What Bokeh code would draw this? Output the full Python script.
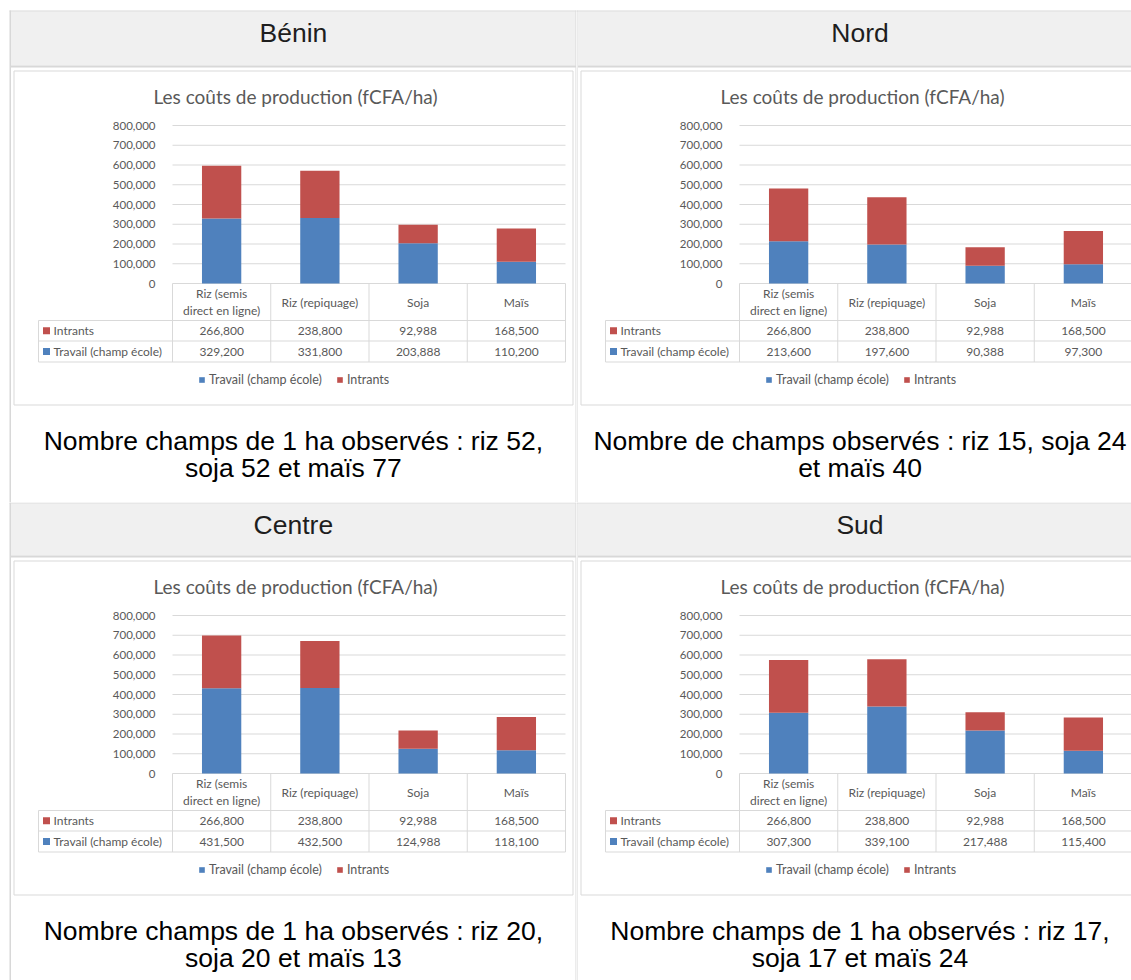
from bokeh.plotting import figure
from bokeh.models import (Range1d, LinearAxis, FixedTicker, NumeralTickFormatter,
                          ColumnDataSource, Legend, LegendItem)
from bokeh.layouts import row, column
from bokeh.core.properties import value
from bokeh.embed import file_html
from bokeh.resources import INLINE

# ---------------- data ----------------
regions = ["Bénin", "Nord", "Centre", "Sud"]
categories = ["Riz (semis direct en ligne)", "Riz (repiquage)", "Soja", "Maïs"]
category_labels = [["Riz (semis", "direct en ligne)"], ["Riz (repiquage)"], ["Soja"], ["Maïs"]]
series_names = ["Travail (champ école)", "Intrants"]
chart_title = "Les coûts de production (fCFA/ha)"
y_ticks = [0, 100000, 200000, 300000, 400000, 500000, 600000, 700000, 800000]

intrants_benin = [266800, 238800, 92988, 168500]
travail_benin = [329200, 331800, 203888, 110200]
intrants_nord = [266800, 238800, 92988, 168500]
travail_nord = [213600, 197600, 90388, 97300]
intrants_centre = [266800, 238800, 92988, 168500]
travail_centre = [431500, 432500, 124988, 118100]
intrants_sud = [266800, 238800, 92988, 168500]
travail_sud = [307300, 339100, 217488, 115400]

caption_benin = ["Nombre champs de 1 ha observés : riz 52,", "soja 52 et maïs 77"]
caption_nord = ["Nombre de champs observés : riz 15, soja 24", "et maïs 40"]
caption_centre = ["Nombre champs de 1 ha observés : riz 20,", "soja 20 et maïs 13"]
caption_sud = ["Nombre champs de 1 ha observés : riz 17,", "soja 17 et maïs 24"]

# ---------------- styles ----------------
BLUE = "#4F81BD"
RED = "#C0504D"
GRID = "#d9d9d9"
CELL_LINE = "#d8d8d8"
HDR_FILL = "#f0f0f0"
TXT = "#595959"
CHART_FONT = "Lato"
DOC_FONT = "Liberation Sans"
TABLE_FS = "12px"


def quadrant(region, travail, intrants, caption, left_col, top_row):
    x0, W = (0, 576) if left_col else (576, 555)
    y0, H = (0, 502) if top_row else (502, 478)
    p = figure(width=W, height=H, x_range=Range1d(x0, x0 + W), y_range=Range1d(y0 + H, y0),
               min_border=0, toolbar_location=None, output_backend="svg",
               x_axis_location=None, y_axis_location=None, outline_line_color=None,
               background_fill_color="white", border_fill_color="white")
    p.xgrid.visible = False
    p.ygrid.visible = False

    # ----- table cell structure -----
    hdr_top, hdr_bot, fr_top = (11, 65, 70) if top_row else (503, 555, 560)
    cl = 10.5 if left_col else x0 + 1.5
    cr = x0 + W - 0.5 if left_col else x0 + W
    p.quad(left=cl, right=cr, top=hdr_top, bottom=hdr_bot, fill_color=HDR_FILL, line_color=None)
    p.segment(x0=cl, x1=cr, y0=hdr_bot + 1, y1=hdr_bot + 1, line_color=CELL_LINE, line_width=2)
    if top_row:
        p.segment(x0=9, x1=cr, y0=10.5, y1=10.5, line_color=CELL_LINE, line_width=1)
    else:
        p.segment(x0=max(x0, 9), x1=cr, y0=502.5, y1=502.5, line_color=CELL_LINE, line_width=1)
    vy0 = 10 if top_row else y0
    if left_col:
        p.segment(x0=9.75, x1=9.75, y0=vy0, y1=y0 + H, line_color=CELL_LINE, line_width=1.5)
        p.segment(x0=x0 + W - 0.5, x1=x0 + W - 0.5, y0=vy0, y1=y0 + H, line_color=CELL_LINE, line_width=1)
    else:
        p.segment(x0=x0 + 0.5, x1=x0 + 0.5, y0=vy0, y1=y0 + H, line_color=CELL_LINE, line_width=1)

    # ----- chart frame -----
    fx, fr = (13.5, 572.5) if left_col else (580.5, 1139.5)
    fb = fr_top + 334
    cell_cx = (9.75 + 576) / 2 if left_col else (576 + 1143) / 2

    # header text
    p.text(x=[cell_cx], y=[hdr_top + 21], text=[region], text_font=value(DOC_FONT),
           text_font_size="26.5px", text_color="#1e1e1e", text_align="center", text_baseline="middle")

    p.quad(left=fx, right=fr, top=fr_top + 0.5, bottom=fb + 0.5, fill_color="white",
           line_color=GRID, line_width=1)
    p.text(x=[(fx + fr) / 2 + 2], y=[fr_top + 26], text=[chart_title], text_font=value(CHART_FONT),
           text_font_size="19px", text_color=TXT, text_align="center", text_baseline="middle")

    pl, pr = fx + 158.5, fr - 7.5
    zero_y, top_y = fr_top + 213, fr_top + 55
    n = len(categories)
    band = (pr - pl) / n
    p.extra_x_ranges = {"cat": Range1d(-0.5 + (x0 - pl) / band, -0.5 + (x0 + W - pl) / band)}
    scale = max(y_ticks) / (zero_y - top_y)
    p.extra_y_ranges = {"val": Range1d((zero_y - (y0 + H)) * scale, (zero_y - y0) * scale)}

    # gridlines
    p.segment(x0=pl, x1=pr, y0=y_ticks, y1=y_ticks, y_range_name="val", line_color=GRID, line_width=1)

    # bars
    src = ColumnDataSource(dict(idx=list(range(n)), travail=travail, intrants=intrants))
    rs = p.vbar_stack(["travail", "intrants"], x="idx", width=0.4, fill_color=[BLUE, RED],
                      line_color=None, source=src, x_range_name="cat", y_range_name="val")

    # y axis inside the frame
    ax = LinearAxis(y_range_name="val", fixed_location=pl, ticker=FixedTicker(ticks=y_ticks),
                    formatter=NumeralTickFormatter(format="0,0"), axis_line_color=None,
                    major_tick_line_color=None, minor_tick_line_color=None,
                    major_tick_in=0, major_tick_out=0, major_label_standoff=17,
                    major_label_text_font=CHART_FONT, major_label_text_font_size="11.5px",
                    major_label_text_color=TXT)
    p.add_layout(ax, "left")

    # data table
    tl = fx + 24.5
    r1 = zero_y + 37
    r2 = r1 + 20.5
    r3 = r2 + 21
    p.segment(x0=tl, x1=pr, y0=[r1, r2, r3], y1=[r1, r2, r3], line_color=GRID, line_width=1)
    bounds = [i - 0.5 for i in range(n + 1)]
    p.segment(x0=bounds, x1=bounds, y0=zero_y, y1=r3, x_range_name="cat", line_color=GRID, line_width=1)
    p.segment(x0=tl, x1=tl, y0=r1, y1=r3, line_color=GRID, line_width=1)

    hx, hy, ht = [], [], []
    hmid = (zero_y + r1) / 2
    for i, lines in enumerate(category_labels):
        k = len(lines)
        for j, ln in enumerate(lines):
            hx.append(i)
            hy.append(hmid + (j - (k - 1) / 2) * 17)
            ht.append(ln)
    p.text(x=hx, y=hy, text=ht, x_range_name="cat", text_font=value(CHART_FONT),
           text_font_size=TABLE_FS, text_color=TXT, text_align="center", text_baseline="middle")

    rows = [(intrants, series_names[1], RED, (r1 + r2) / 2), (travail, series_names[0], BLUE, (r2 + r3) / 2)]
    for vals, name, col, ry in rows:
        p.text(x=list(range(n)), y=[ry] * n, text=[f"{v:,}" for v in vals], x_range_name="cat",
               text_font=value(CHART_FONT), text_font_size=TABLE_FS, text_color=TXT,
               text_align="center", text_baseline="middle")
        p.rect(x=[tl + 8], y=[ry], width=7, height=7, fill_color=col, line_color=None)
        p.text(x=[tl + 15], y=[ry], text=[name], text_font=value(CHART_FONT), text_font_size=TABLE_FS,
               text_color=TXT, text_align="left", text_baseline="middle")

    # legend
    leg_bottom = (y0 + H) - (zero_y + 98 + 6)
    leg_left = (fx + fr) / 2 - 95 - x0
    legend = Legend(items=[LegendItem(label=series_names[0], renderers=[rs[0]]),
                           LegendItem(label=series_names[1], renderers=[rs[1]])],
                    orientation="horizontal", location=(leg_left, leg_bottom), margin=0, padding=0,
                    spacing=14, glyph_width=7, glyph_height=7, label_standoff=4, label_height=12,
                    label_text_font=CHART_FONT, label_text_font_size="12.5px", label_text_color=TXT,
                    border_line_color=None, background_fill_alpha=0)
    p.add_layout(legend, "center")

    # caption
    cap_y = [fb + 36 + 27 * i for i in range(len(caption))]
    p.text(x=[cell_cx] * len(caption), y=cap_y, text=caption, text_font=value(DOC_FONT),
           text_font_size="26.5px", text_color="#000000", text_align="center", text_baseline="middle")
    return p


q1 = quadrant(regions[0], travail_benin, intrants_benin, caption_benin, True, True)
q2 = quadrant(regions[1], travail_nord, intrants_nord, caption_nord, False, True)
q3 = quadrant(regions[2], travail_centre, intrants_centre, caption_centre, True, False)
q4 = quadrant(regions[3], travail_sud, intrants_sud, caption_sud, False, False)

layout = column(row(q1, q2), row(q3, q4))
open("out.html", "w").write(file_html(layout, INLINE))
